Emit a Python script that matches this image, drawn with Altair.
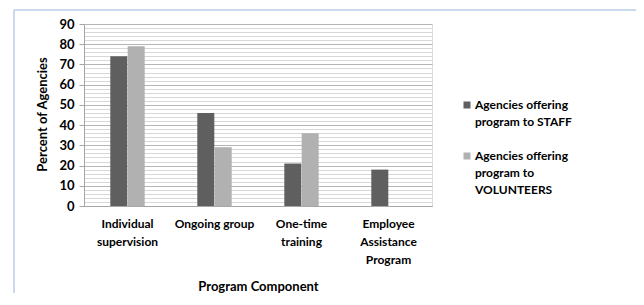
import altair as alt
import pandas as pd

categories = ["Individual|supervision", "Ongoing group", "One-time|training", "Employee|Assistance|Program"]
series = ["Agencies offering|program to STAFF", "Agencies offering|program to|VOLUNTEERS"]
staff = [74, 46, 21, 18]
volunteers = [79, 29, 36, 0]
y_ticks = list(range(0, 91, 2))

rows = []
for c, s, v in zip(categories, staff, volunteers):
    rows.append({"cat": c, "series": series[0], "val": s})
    rows.append({"cat": c, "series": series[1], "val": v})
df = pd.DataFrame(rows)

FONT = "Lato"
colors = ["#5f5f5f", "#b1b1b1"]

bars = alt.Chart(df).mark_bar(size=17).encode(
    x=alt.X("cat:N", sort=categories,
            scale=alt.Scale(paddingInner=0.6, paddingOuter=0.3),
            axis=alt.Axis(title="Program Component", labelAngle=0,
                          labelExpr="split(datum.label, '|')",
                          labelLineHeight=18, labelPadding=12, ticks=False,
                          domainColor="#a6a6a6", labelBaseline="top",
                          titleY=80, titleBaseline="middle",
                          labelFont=FONT, titleFont=FONT, labelFontSize=12, titleFontSize=13,
                          labelFontWeight="bold", titleFontWeight="bold",
                          labelColor="#000", titleColor="#000")),
    xOffset=alt.XOffset("series:N", sort=series, scale=alt.Scale(paddingInner=0, paddingOuter=0)),
    y=alt.Y("val:Q", scale=alt.Scale(domain=[0, 90], nice=False),
            axis=alt.Axis(title="Percent of Agencies", values=y_ticks,
                          labelExpr="datum.value % 10 === 0 ? datum.label : ''",
                          gridColor={"condition": {"test": "datum.value % 10 === 0", "value": "#b5b5b5"}, "value": "#d8d8d8"},
                          tickOpacity={"condition": {"test": "datum.value % 10 === 0", "value": 1}, "value": 0},
                          tickColor="#a6a6a6", tickSize=5, domainColor="#a6a6a6",
                          labelPadding=5, titleX=-42, titleY=90, titleBaseline="middle",
                          labelFont=FONT, titleFont=FONT, labelFontSize=13, titleFontSize=13,
                          labelFontWeight="bold", titleFontWeight="bold",
                          labelColor="#000", titleColor="#000")),
    color=alt.Color("series:N", sort=series, scale=alt.Scale(domain=series, range=colors),
                    legend=None),
)

# legend built from the series list
legend_layers = []
legend_y = [81, 132]
for name, col, ly in zip(series, colors, legend_y):
    legend_layers.append(
        alt.Chart(pd.DataFrame({"a": [0]})).mark_square(size=49, color=col, opacity=1)
        .encode(x=alt.value(383), y=alt.value(ly))
    )
    legend_layers.append(
        alt.Chart(pd.DataFrame({"a": [0]})).mark_text(
            text=name, lineBreak="|", lineHeight=17, align="left", baseline="middle",
            font=FONT, fontSize=12, fontWeight="bold", color="#000")
        .encode(x=alt.value(391), y=alt.value(ly))
    )

one = pd.DataFrame({"a": [0]})
frame_top = alt.Chart(one).mark_rule(stroke="#b8cce4", strokeWidth=1.5).encode(
    x=alt.value(-70), x2=alt.value(700), y=alt.value(-14))
frame_left = alt.Chart(one).mark_rule(stroke="#b8cce4", strokeWidth=1.5).encode(
    x=alt.value(-70), y=alt.value(-14), y2=alt.value(400))

chart = alt.layer(frame_top, frame_left, bars, *legend_layers).properties(
    width=348, height=182,
    autosize=alt.AutoSizeParams(type="none"),
    padding={"left": 76, "top": 16, "right": 204, "bottom": 87},
).configure_view(stroke=None).configure(background="white")

chart.save("out.html", embed_options={"renderer": "svg", "actions": False})
